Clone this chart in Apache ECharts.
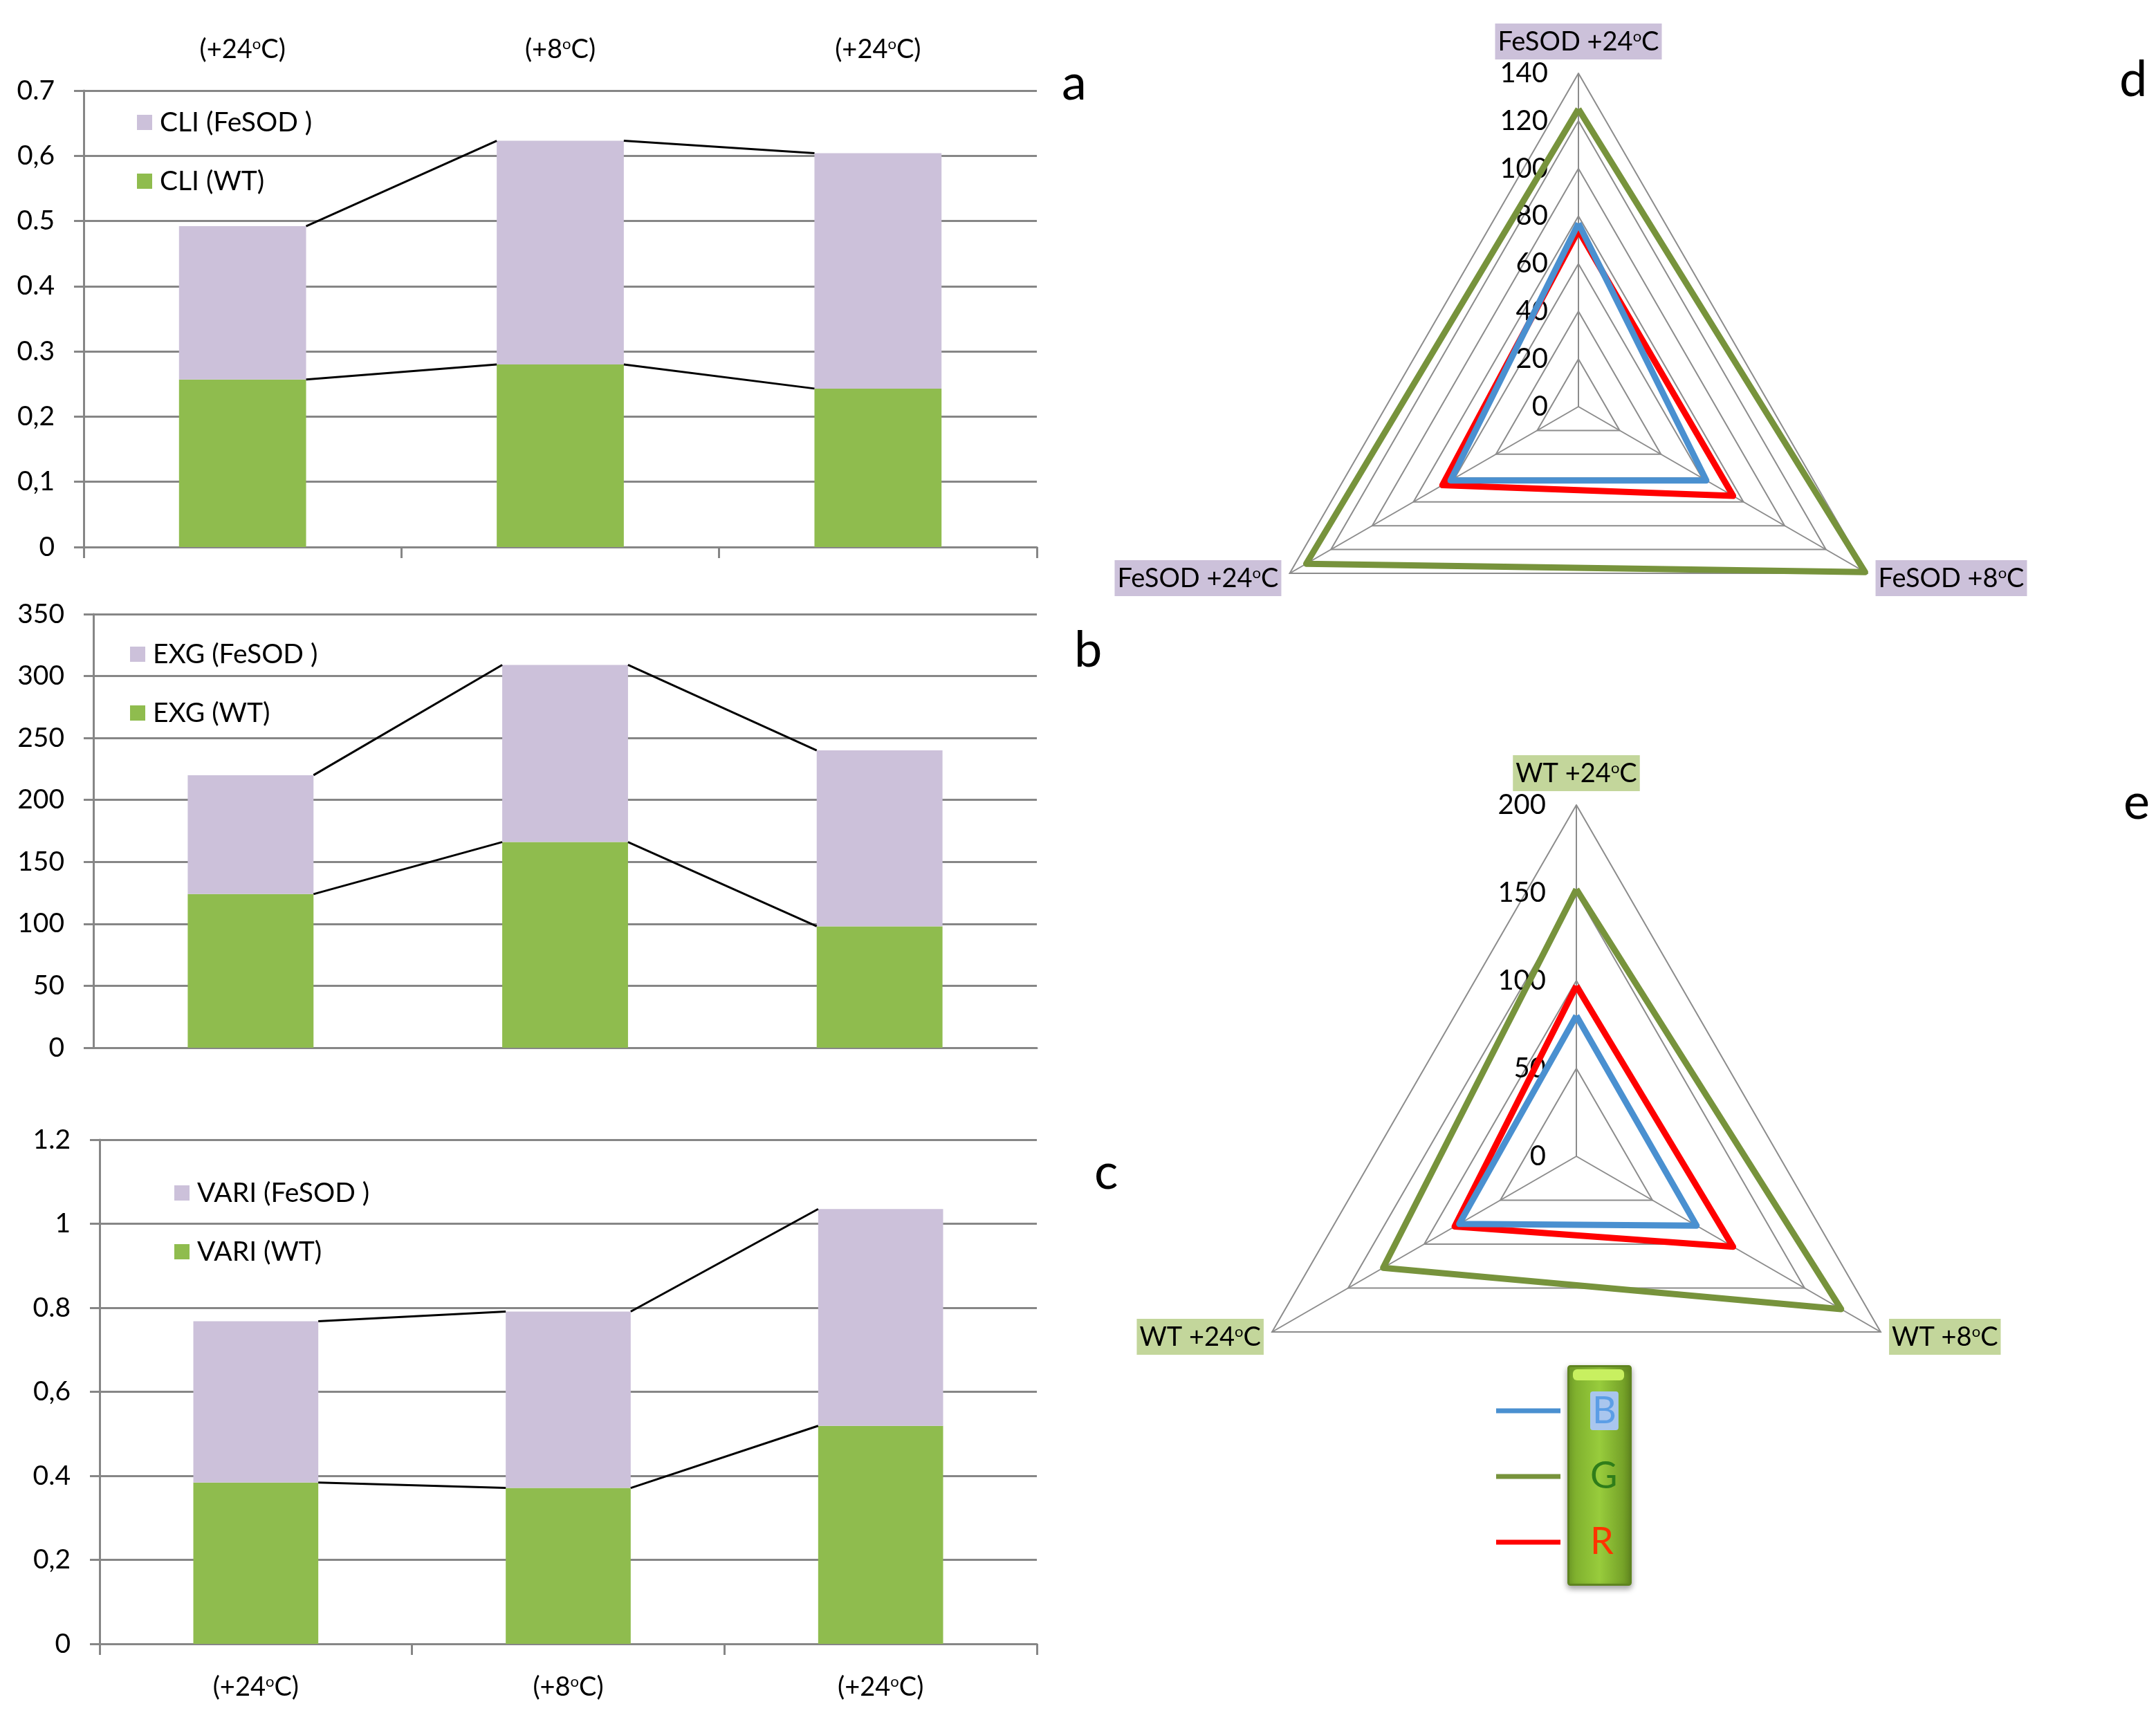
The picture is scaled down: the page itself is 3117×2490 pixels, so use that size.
<!DOCTYPE html>
<html><head><meta charset="utf-8">
<script src="https://cdn.jsdelivr.net/npm/echarts@6/dist/echarts.min.js"></script>
<style>html,body{margin:0;padding:0;background:#fff}#c{width:3117px;height:2490px}</style>
</head><body><div id="c"></div>
<script>
// ---------- DATA ----------
const categories = ['(+24°C)', '(+8°C)', '(+24°C)'];
const cliWT = [0.257, 0.280, 0.243];
const cliFeSOD = [0.235, 0.343, 0.361];
const exgWT = [124, 166, 98];
const exgFeSOD = [96, 143, 142];
const variWT = [0.384, 0.371, 0.519];
const variFeSOD = [0.384, 0.420, 0.516];
const cliTicks = ['0', '0,1', '0,2', '0.3', '0.4', '0.5', '0,6', '0.7'];
const exgTicks = ['0', '50', '100', '150', '200', '250', '300', '350'];
const variTicks = ['0', '0,2', '0.4', '0,6', '0.8', '1', '1.2'];
const cliNames = ['CLI (FeSOD )', 'CLI (WT)'];
const exgNames = ['EXG (FeSOD )', 'EXG (WT)'];
const variNames = ['VARI (FeSOD )', 'VARI (WT)'];

// radar axes order: top, lower-left, lower-right
const radarFeSODAxes = ['FeSOD +24°C', 'FeSOD +24°C', 'FeSOD +8°C'];
const radarWTAxes = ['WT +24°C', 'WT +24°C', 'WT +8°C'];
const radarFeSODMax = 140, radarFeSODStep = 20;
const radarWTMax = 200, radarWTStep = 50;
const fesodB = [77, 62, 62];
const fesodG = [125, 132, 139];
const fesodR = [74, 66, 75];
const wtB = [80, 77, 79];
const wtG = [152, 127, 174];
const wtR = [97, 80, 103];
const channelNames = ['B', 'G', 'R'];

// ---------- STYLE ----------
const FONT = 'Lato';
const GRAY = '#868686';
const LAV = '#ccc1da';
const GRN = '#8fbc4e';
const C_B = '#4a90d0', C_G = '#77933c', C_R = '#ff0000';
const degRich = {
  o: { fontSize: 22, verticalAlign: 'top', fontFamily: FONT, color: '#000', padding: [0, 0, 16, 0] }
};
const deg = s => s.replace('°', '{o|o}');

const panels = [
  { wt: cliWT, fe: cliFeSOD, ticks: cliTicks, interval: 0.1, names: cliNames,
    grid: { left: 121, top: 131, width: 1378, height: 660 }, legend: { left: 198, top: 156 },
    topLabels: true, bottomLabels: false, xTicks: true },
  { wt: exgWT, fe: exgFeSOD, ticks: exgTicks, interval: 50, names: exgNames,
    grid: { left: 135, top: 888, width: 1364, height: 627 }, legend: { left: 188, top: 925 },
    topLabels: false, bottomLabels: false, xTicks: false },
  { wt: variWT, fe: variFeSOD, ticks: variTicks, interval: 0.2, names: variNames,
    grid: { left: 144, top: 1648, width: 1355, height: 729 }, legend: { left: 252, top: 1704 },
    topLabels: false, bottomLabels: true, xTicks: true }
];

const option = {
  backgroundColor: '#fff',
  animation: false,
  textStyle: { fontFamily: FONT },
  grid: [], xAxis: [], yAxis: [], series: [], legend: [], radar: [], graphic: []
};

const catLabel = (show, margin) => ({
  show: show, margin: margin, fontSize: 38, color: '#000', fontFamily: FONT,
  formatter: v => deg(v), rich: degRich
});

panels.forEach((p, gi) => {
  option.grid.push(Object.assign({ containLabel: false }, p.grid));
  const xi = option.xAxis.length;
  option.xAxis.push({
    type: 'category', data: categories, gridIndex: gi, position: 'bottom',
    axisLine: { show: true, lineStyle: { color: GRAY, width: 3 } },
    axisTick: { show: p.xTicks, length: 16, lineStyle: { color: GRAY, width: 3 } },
    axisLabel: catLabel(p.bottomLabels, 44),
    splitLine: { show: false }
  });
  if (p.topLabels) {
    option.xAxis.push({
      type: 'category', data: categories, gridIndex: gi, position: 'top',
      axisLine: { show: false }, axisTick: { show: false },
      axisLabel: catLabel(true, 40)
    });
  }
  const yi = option.yAxis.length;
  const max = p.interval * (p.ticks.length - 1);
  option.yAxis.push({
    type: 'value', gridIndex: gi, min: 0, max: max, interval: p.interval,
    axisLine: { show: true, lineStyle: { color: GRAY, width: 3 } },
    axisTick: { show: true, length: 14, lineStyle: { color: GRAY, width: 3 } },
    splitLine: { show: true, lineStyle: { color: GRAY, width: 3 } },
    axisLabel: { margin: 42, fontSize: 39, color: '#000', fontFamily: FONT,
      formatter: v => p.ticks[Math.round(v / p.interval)] }
  });
  option.series.push({
    type: 'bar', name: p.names[1], xAxisIndex: xi, yAxisIndex: yi, stack: 's' + gi,
    barWidth: '40%', data: p.wt, itemStyle: { color: GRN }, z: 2
  });
  option.series.push({
    type: 'bar', name: p.names[0], xAxisIndex: xi, yAxisIndex: yi, stack: 's' + gi,
    barWidth: '40%', data: p.fe, itemStyle: { color: LAV }, z: 2
  });
  const tot = p.wt.map((v, i) => v + p.fe[i]);
  [tot, p.wt].forEach(arr => {
    const d = [];
    for (let i = 0; i < arr.length - 1; i++) d.push([i, arr[i], arr[i + 1]]);
    option.series.push({
      type: 'custom', xAxisIndex: xi, yAxisIndex: yi, silent: true, z: 5,
      encode: { x: 0, y: [1, 2] }, data: d,
      renderItem: (params, api) => {
        const band = api.size([1, 0])[0];
        const hw = band * 0.2;
        const p1 = api.coord([api.value(0), api.value(1)]);
        const p2 = api.coord([api.value(0) + 1, api.value(2)]);
        return { type: 'line', shape: { x1: p1[0] + hw, y1: p1[1], x2: p2[0] - hw, y2: p2[1] },
          style: { stroke: '#000', lineWidth: 3 } };
      }
    });
  });
  option.legend.push({
    orient: 'vertical', left: p.legend.left, top: p.legend.top, padding: 0,
    data: [p.names[0], p.names[1]], icon: 'rect', itemWidth: 22, itemHeight: 22,
    itemGap: 43, selectedMode: false,
    textStyle: { fontSize: 39, lineHeight: 42, color: '#000', fontFamily: FONT, padding: [0, 0, 0, 6] }
  });
});

// ---------- RADARS ----------
function makeRadar(center, radius, names, max, step, bg) {
  return {
    center: center, radius: radius, startAngle: 90, shape: 'polygon',
    splitNumber: max / step,
    indicator: names.map((n, i) => i === 0
      ? { name: n, min: 0, max: max, axisLabel: { show: true } }
      : { name: n, min: 0, max: max }),
    nameGap: 14,
    axisName: {
      formatter: v => deg(v), color: '#000', fontSize: 38, fontFamily: FONT,
      backgroundColor: bg, padding: [8, 4, 6, 4], rich: degRich
    },
    axisLine: { lineStyle: { color: '#8c8c8c', width: 2 } },
    splitLine: { lineStyle: { color: '#8c8c8c', width: 2 } },
    splitArea: { show: false },
    axisTick: { show: false },
    axisLabel: { show: false, fontSize: 40, color: '#000', fontFamily: FONT, margin: 44 }
  };
}
option.radar.push(makeRadar([2282, 588], 482, radarFeSODAxes, radarFeSODMax, radarFeSODStep, '#ccc1da'));
option.radar.push(makeRadar([2279, 1672], 508, radarWTAxes, radarWTMax, radarWTStep, '#c3d69b'));

const radarSets = [[fesodB, fesodG, fesodR], [wtB, wtG, wtR]];
const radarColors = { B: C_B, G: C_G, R: C_R };
radarSets.forEach((set, ri) => {
  [1, 2, 0].forEach(k => {
    const nm = channelNames[k];
    option.series.push({
      type: 'radar', radarIndex: ri, name: nm, symbol: 'none', silent: true,
      lineStyle: { color: radarColors[nm], width: 9 },
      itemStyle: { color: radarColors[nm] },
      data: [{ value: set[k], name: nm }]
    });
  });
});

option.legend.push({
  orient: 'vertical', left: 2163, top: 2010, z: 10, padding: 0,
  data: channelNames, icon: 'rect', itemWidth: 93, itemHeight: 7, itemGap: 35,
  selectedMode: false,
  formatter: n => '{' + n.toLowerCase() + '|' + n + '}',
  textStyle: {
    fontSize: 54, lineHeight: 60, padding: [0, 0, 0, 38], fontFamily: FONT,
    rich: {
      b: { fontSize: 54, color: '#5b9ee6', backgroundColor: '#a9c6ee', borderRadius: 4, padding: [2, 3, 0, 3], fontFamily: FONT },
      g: { fontSize: 54, color: '#2f7d1a', fontFamily: FONT },
      r: { fontSize: 54, color: '#ff3300', fontFamily: FONT }
    }
  }
});

option.graphic = [
  { type: 'rect', z: 1, left: 2266, top: 1974,
    shape: { width: 90, height: 316, r: 3 },
    style: {
      fill: new echarts.graphic.LinearGradient(0, 0, 1, 0, [
        { offset: 0, color: '#78a82a' }, { offset: 0.5, color: '#98cc3c' }, { offset: 1, color: '#6a9422' }
      ]),
      stroke: '#5f8420', lineWidth: 3, shadowBlur: 8, shadowColor: 'rgba(0,0,0,0.35)', shadowOffsetY: 4
    } },
  { type: 'rect', z: 2, left: 2274, top: 1980,
    shape: { width: 74, height: 16, r: 6 },
    style: { fill: '#c8f060' } },
  { type: 'text', left: 1535, top: 85, style: { text: 'a', fontSize: 72, fill: '#000', fontFamily: FONT } },
  { type: 'text', left: 1553, top: 905, style: { text: 'b', fontSize: 72, fill: '#000', fontFamily: FONT } },
  { type: 'text', left: 1582, top: 1660, style: { text: 'c', fontSize: 72, fill: '#000', fontFamily: FONT } },
  { type: 'text', left: 3064, top: 80, style: { text: 'd', fontSize: 72, fill: '#000', fontFamily: FONT } },
  { type: 'text', left: 3070, top: 1125, style: { text: 'e', fontSize: 72, fill: '#000', fontFamily: FONT } }
];

const chart = echarts.init(document.getElementById('c'), null, { renderer: 'canvas' });
chart.setOption(option);
</script>
</body></html>
